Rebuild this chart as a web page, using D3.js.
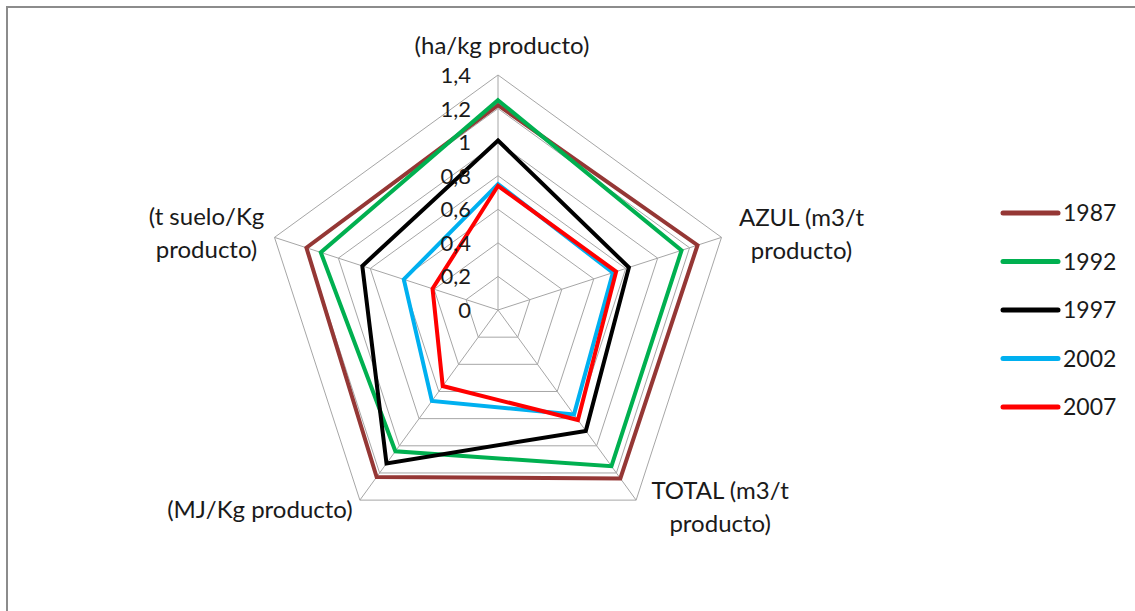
<!DOCTYPE html>
<html>
<head>
<meta charset="utf-8">
<script src="https://cdn.jsdelivr.net/npm/d3@7"></script>
<style>
  html, body { margin: 0; padding: 0; background: #fff; }
  svg { display: block; font-family: Lato, "Open Sans", sans-serif; }
</style>
</head>
<body>
<svg id="chart" width="1135" height="611"></svg>
<script>
// Indicator axes, clockwise from the top
const axes = [
  ["(ha/kg producto)"],
  ["AZUL (m3/t", "producto)"],
  ["TOTAL (m3/t", "producto)"],
  ["(MJ/Kg producto)"],
  ["(t suelo/Kg", "producto)"]
];

// Radial ticks
const ticks = [0, 0.2, 0.4, 0.6, 0.8, 1.0, 1.2, 1.4];
const tickLabels = ["0", "0,2", "0,4", "0,6", "0,8", "1", "1,2", "1,4"];

// Series: one value per axis, in axis order
const years = ["1987", "1992", "1997", "2002", "2007"];
const v1987 = [1.22, 1.25, 1.24, 1.23, 1.20];
const v1992 = [1.25, 1.15, 1.15, 1.04, 1.11];
const v1997 = [1.01, 0.82, 0.89, 1.13, 0.85];
const v2002 = [0.75, 0.72, 0.77, 0.67, 0.59];
const v2007 = [0.74, 0.74, 0.81, 0.56, 0.41];
const colors = ["#953735", "#00b050", "#000000", "#00b0f0", "#ff0000"];

const series = [v1987, v1992, v1997, v2002, v2007].map((values, i) => ({
  year: years[i], values, color: colors[i]
}));

const svg = d3.select("#chart");
const W = 1135, H = 611;

// Outer frame (only top and left edges fall inside the page)
svg.append("path")
  .attr("d", `M7,${H + 5} L7,7 L${W + 5},7`)
  .attr("fill", "none")
  .attr("stroke", "#8c8c8c")
  .attr("stroke-width", 2);

const cx = 498, cy = 310, R = 235;
const r = d3.scaleLinear().domain([0, 1.4]).range([0, R]);
const n = axes.length;
const angle = d3.scaleLinear().domain([0, n]).range([0, 2 * Math.PI]);

const g = svg.append("g").attr("transform", `translate(${cx},${cy})`);

function pt(i, v) {
  const a = angle(i);
  return [r(v) * Math.sin(a), -r(v) * Math.cos(a)];
}

// Concentric pentagon grid
const ring = d3.line().curve(d3.curveLinearClosed);
g.selectAll("path.grid")
  .data(ticks.slice(1))
  .join("path")
  .attr("class", "grid")
  .attr("d", t => ring(d3.range(n).map(i => pt(i, t))))
  .attr("fill", "none")
  .attr("stroke", "#a6a6a6")
  .attr("stroke-width", 1);

// Spokes
g.selectAll("line.spoke")
  .data(d3.range(n))
  .join("line")
  .attr("class", "spoke")
  .attr("x1", 0).attr("y1", 0)
  .attr("x2", i => pt(i, 1.4)[0])
  .attr("y2", i => pt(i, 1.4)[1])
  .attr("stroke", "#a6a6a6")
  .attr("stroke-width", 1);

// Series polygons
g.selectAll("path.series")
  .data(series)
  .join("path")
  .attr("class", "series")
  .attr("d", s => ring(s.values.map((v, i) => pt(i, v))))
  .attr("fill", "none")
  .attr("stroke", s => s.color)
  .attr("stroke-width", 4)
  .attr("stroke-linejoin", "miter");

// Tick labels along the top axis
g.selectAll("text.tick")
  .data(ticks)
  .join("text")
  .attr("class", "tick")
  .attr("x", -27)
  .attr("y", t => -r(t))
  .attr("dy", "0.36em")
  .attr("text-anchor", "end")
  .attr("font-size", 22)
  .attr("fill", "#1a1a1a")
  .text((t, i) => tickLabels[i]);

// Axis titles, placed just outside each outer vertex
const titleOffset = [
  { dx: 4, dy: -21 },
  { dx: 80, dy: -11 },
  { dx: 84, dy: -1 },
  { dx: -100, dy: 18 },
  { dx: -68, dy: -12 }
];
axes.forEach((lines, i) => {
  const [x, y] = pt(i, 1.4);
  const o = titleOffset[i];
  const t = g.append("text")
    .attr("class", "axis-title")
    .attr("text-anchor", "middle")
    .attr("font-size", 24)
    .attr("fill", "#1a1a1a")
    .attr("transform", `translate(${x + o.dx},${y + o.dy})`);
  lines.forEach((line, k) => {
    t.append("tspan").attr("x", 0).attr("y", k * 33).text(line);
  });
});

// Legend
const legend = svg.append("g").attr("transform", "translate(1003,213)");
const item = legend.selectAll("g")
  .data(series)
  .join("g")
  .attr("transform", (d, i) => `translate(0,${i * 48.5})`);
item.append("line")
  .attr("x1", 0).attr("x2", 55)
  .attr("stroke", d => d.color)
  .attr("stroke-width", 5)
  .attr("stroke-linecap", "round");
item.append("text")
  .attr("x", 60)
  .attr("dy", "0.36em")
  .attr("font-size", 23)
  .attr("fill", "#1a1a1a")
  .text(d => d.year);
</script>
</body>
</html>
